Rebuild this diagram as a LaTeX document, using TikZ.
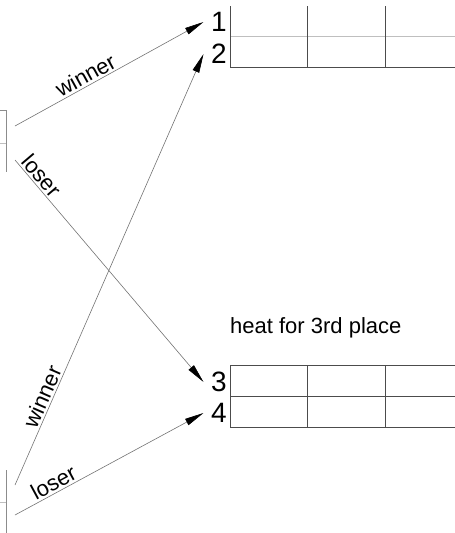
\documentclass[tikz,border=0pt]{standalone}
\usepackage{fontspec}
\setmainfont{Liberation Sans}
\usetikzlibrary{arrows.meta}
\tikzset{
  conn/.style={draw=black!55, line width=0.6pt, -{Triangle[length=19pt,width=7pt,color=black,fill=black]}},
  lbl/.style={sloped, above, inner sep=2pt, font=\fontsize{22}{24}\selectfont, text=black},
  digit/.style={inner xsep=7.5pt, inner ysep=0pt, font=\fontsize{28}{30}\selectfont},
  gridline/.style={draw=black!70, line width=0.8pt},
  lightline/.style={draw=black!25, line width=0.8pt},
  boxline/.style={draw=black!45, line width=0.7pt}
}
\begin{document}
\begin{tikzpicture}[x=1pt, y=-1pt]
\useasboundingbox (0,0) rectangle (455,533);

% upper table
\draw[lightline] (230,36) -- (455,36);
\draw[gridline] (230,67) -- (455,67);
\draw[gridline] (230,6) -- (230,67);
\draw[gridline] (307,6) -- (307,67);
\draw[gridline] (385,6) -- (385,67);

% lower table
\draw[gridline] (230,365) -- (455,365);
\draw[gridline] (230,396) -- (455,396);
\draw[gridline] (230,427) -- (455,427);
\draw[gridline] (230,365) -- (230,427);
\draw[gridline] (307,365) -- (307,427);
\draw[gridline] (385,365) -- (385,427);

% left boxes (cut off)
\draw[boxline] (0,110) -- (6,110) -- (6,172);
\draw[lightline] (0,143) -- (6,143);
\draw[boxline] (6,470) -- (6,533);
\draw[lightline] (0,502) -- (6,502);

% place numbers
\node[digit] (n1) at (219,22) {1};
\node[digit] (n2) at (219,54) {2};
\node[digit] (n3) at (219,382) {3};
\node[digit] (n4) at (219,413) {4};

\node[anchor=base west, inner sep=0pt, font=\fontsize{22}{24}\selectfont] (heat) at (230,333) {heat for 3rd place};

% start points
\coordinate (w1) at (15,126);
\coordinate (l1) at (15,160);
\coordinate (w2) at (15,485);
\coordinate (l2) at (15,515);

\draw[conn] (w1) -- node[lbl, pos=0.40] {winner} (n1.west);
\draw[conn] (l1) -- node[lbl, pos=0.10] {loser} (n3.west);
\draw[conn] (w2) -- node[lbl, pos=0.195] {winner} (n2.west);
\draw[conn] (l2) -- node[lbl, pos=0.23] {loser} (n4.west);
\end{tikzpicture}
\end{document}
